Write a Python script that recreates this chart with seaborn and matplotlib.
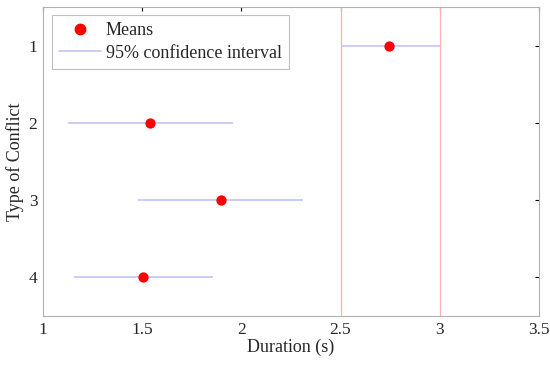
import pandas as pd
import matplotlib
matplotlib.use('Agg')
import matplotlib.pyplot as plt
import seaborn as sns
from matplotlib.lines import Line2D

conflict = [1, 2, 3, 4]
means = [2.745, 1.54, 1.897, 1.505]
ci_low = [2.5, 1.124, 1.48, 1.156]
ci_high = [3.0, 1.956, 2.312, 1.857]
ref_lines = [2.5, 3.0]

df = pd.DataFrame({'conflict': conflict, 'mean': means, 'lo': ci_low, 'hi': ci_high})

sns.set_style('white')
plt.rcParams['font.family'] = ['Liberation Serif', 'DejaVu Serif']

fig = plt.figure(figsize=(5.5, 3.65), dpi=100)
ax = fig.add_axes([0.078, 0.134, 0.902, 0.847])

# confidence intervals
ax.hlines(df['conflict'], df['lo'], df['hi'], color='#c4c4fa', linewidth=1.2, zorder=2)
# reference lines at group 1 interval
for x in ref_lines:
    ax.axvline(x, color='#ffb0b0', linewidth=0.9, zorder=1)

sns.scatterplot(data=df, x='mean', y='conflict', color='red', s=55,
                edgecolor='red', linewidth=0, zorder=3, ax=ax, legend=False)

ax.set_xlim(1, 3.5)
ax.set_ylim(4.5, 0.5)
ax.set_xticks([1, 1.5, 2, 2.5, 3, 3.5])
ax.set_xticklabels(['1', '1.5', '2', '2.5', '3', '3.5'])
ax.set_yticks(conflict)
ax.tick_params(direction='in', length=3, width=0.8, color='black',
               top=True, right=True, labelsize=12.5, pad=4)
for s in ax.spines.values():
    s.set_color('#b0b0b0')
    s.set_linewidth(0.8)

ax.set_xlabel('Duration (s)', fontsize=13, labelpad=1)
ax.set_ylabel('Type of Conflict', fontsize=13, labelpad=3)

handles = [
    Line2D([], [], marker='o', color='red', linestyle='none', markersize=7.5),
    Line2D([], [], color='#c4c4fa', linewidth=1.2),
]
leg = ax.legend(handles, ['Means', '95% confidence interval'], loc='upper left',
                bbox_to_anchor=(0.018, 0.974), borderaxespad=0, fontsize=13,
                frameon=True, fancybox=False, edgecolor='#b0b0b0',
                handlelength=2.3, borderpad=0.4, labelspacing=0.3,
                handletextpad=0.3)
leg.get_frame().set_linewidth(0.8)

fig.savefig('out.png', dpi=100)
